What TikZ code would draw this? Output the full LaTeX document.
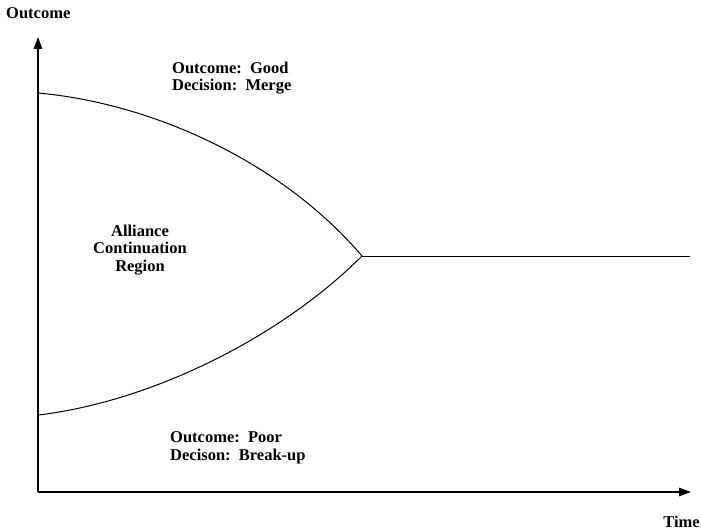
\documentclass[tikz,border=0pt]{standalone}
\usepackage{fontspec}
\setmainfont{Liberation Serif}
\usetikzlibrary{arrows.meta}
\begin{document}
\begin{tikzpicture}[x=1pt,y=-1pt,
  lbl/.style={font=\bfseries\fontsize{16.5}{17.5}\selectfont, inner sep=0pt, align=left, anchor=base west},
  ctr/.style={font=\bfseries\fontsize{16.5}{17.5}\selectfont, inner sep=0pt, align=center},
  axis/.style={line width=1.4pt, -{Triangle[length=12pt,width=8.5pt]}},
  crv/.style={line width=1pt}]
\useasboundingbox (0,0) rectangle (701,532);
\coordinate (O) at (38,492);
\coordinate (ytop) at (38,37);
\coordinate (xend) at (691,492);
\coordinate (top) at (38,93);
\coordinate (bot) at (38,415);
\coordinate (m) at (362,256);
\coordinate (r) at (690,256);
\draw[axis] (O) -- (ytop);
\draw[axis] (O) -- (xend);
\draw[crv] (top) .. controls (150,103) and (280,160) .. (m);
\draw[crv] (bot) .. controls (150,402) and (280,338) .. (m);
\draw[crv] (m) -- (r);
\node[lbl] (ylab) at (6,19) {Outcome};
\node[lbl, anchor=base east] (xlab) at (700,527) {Time};
\node[lbl] (good) at (172,91) {Outcome:\ \ Good\\Decision:\ \ Merge};
\node[lbl] (poor) at (170,460) {Outcome:\ \ Poor\\Decison:\ \ Break-up};
\node[ctr] (reg) at (140,250) {Alliance\\Continuation\\Region};
\end{tikzpicture}
\end{document}
